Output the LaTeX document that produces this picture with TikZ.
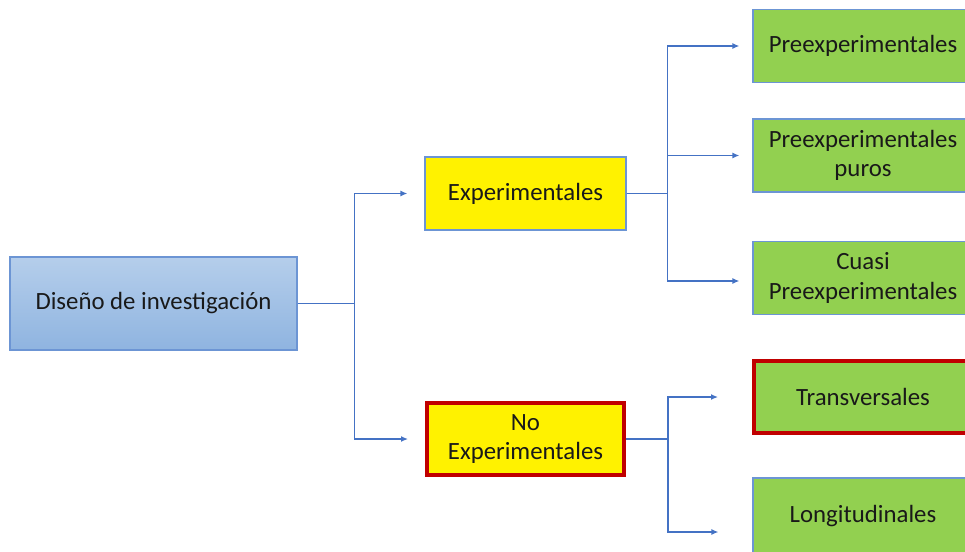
\documentclass[tikz,border=0pt]{standalone}
\usepackage{fontspec}
\setmainfont{Carlito}
\usetikzlibrary{arrows.meta}

\definecolor{linkblue}{HTML}{4472C4}
\definecolor{boxline}{HTML}{6C95D4}
\definecolor{roottop}{HTML}{B5CEEB}
\definecolor{rootbottom}{HTML}{8FB4E0}
\definecolor{leafgreen}{HTML}{92D050}
\definecolor{markred}{HTML}{C00000}

\begin{document}
\begin{tikzpicture}[x=1pt,y=-1pt,
    box/.style={draw=boxline,line width=1.2pt,align=center,inner sep=0pt,text=black!90,
        font=\fontsize{24.8}{29.5}\selectfont},
    rootbox/.style={box,top color=roottop,bottom color=rootbottom,minimum width=287pt,minimum height=93pt},
    yellowbox/.style={box,fill=yellow,minimum width=201pt,minimum height=73pt},
    greenbox/.style={box,fill=leafgreen,minimum width=220pt,minimum height=73pt},
    redline/.style={draw=markred,line width=4pt},
    conn/.style={draw=linkblue,line width=1.3pt,-{Latex[length=7pt,width=6pt]}}]

    \useasboundingbox (0,0) rectangle (965,551);

    % nodes (levels)
    \node[rootbox] (root) at (153.5,303.5) {Diseño de investigación};
    \node[yellowbox] (exp) at (525.5,193.5) {Experimentales};
    \node[yellowbox,redline,minimum width=197pt,minimum height=72pt] (noexp) at (525.5,439) {No\\Experimentales};

    % nodes (types)
    \node[greenbox] (pre) at (863,46) {Preexperimentales};
    \node[greenbox] (puros) at (863,155.5) {Preexperimentales\\puros};
    \node[greenbox] (cuasi) at (863,278) {Cuasi\\Preexperimentales};
    \node[greenbox,redline,minimum height=72pt,minimum width=218pt] (trans) at (863,397) {Transversales};
    \node[greenbox,minimum height=76pt] (longi) at (863,516) {Longitudinales};

    % paths
    \draw[conn,shorten >=17pt] (root.east) -- ++(57,0) |- (exp.west); % root -> exp
    \draw[conn,shorten >=17pt] (root.east) -- ++(57,0) |- (noexp.west); % root -> noexp
    \draw[conn,shorten >=13pt] (exp.east) -- ++(41,0) |- (pre.west);
    \draw[conn,shorten >=13pt] (exp.east) -- ++(41,0) |- (puros.west);
    \draw[conn,shorten >=13pt] (exp.east) -- ++(41,0) |- ([yshift=-3pt]cuasi.west);
    \draw[conn,shorten >=34pt] (noexp.east) -- ++(42,0) |- (trans.west);
    \draw[conn,shorten >=34pt] (noexp.east) -- ++(42,0) |- ([yshift=-16pt]longi.west);

\end{tikzpicture}
\end{document}
